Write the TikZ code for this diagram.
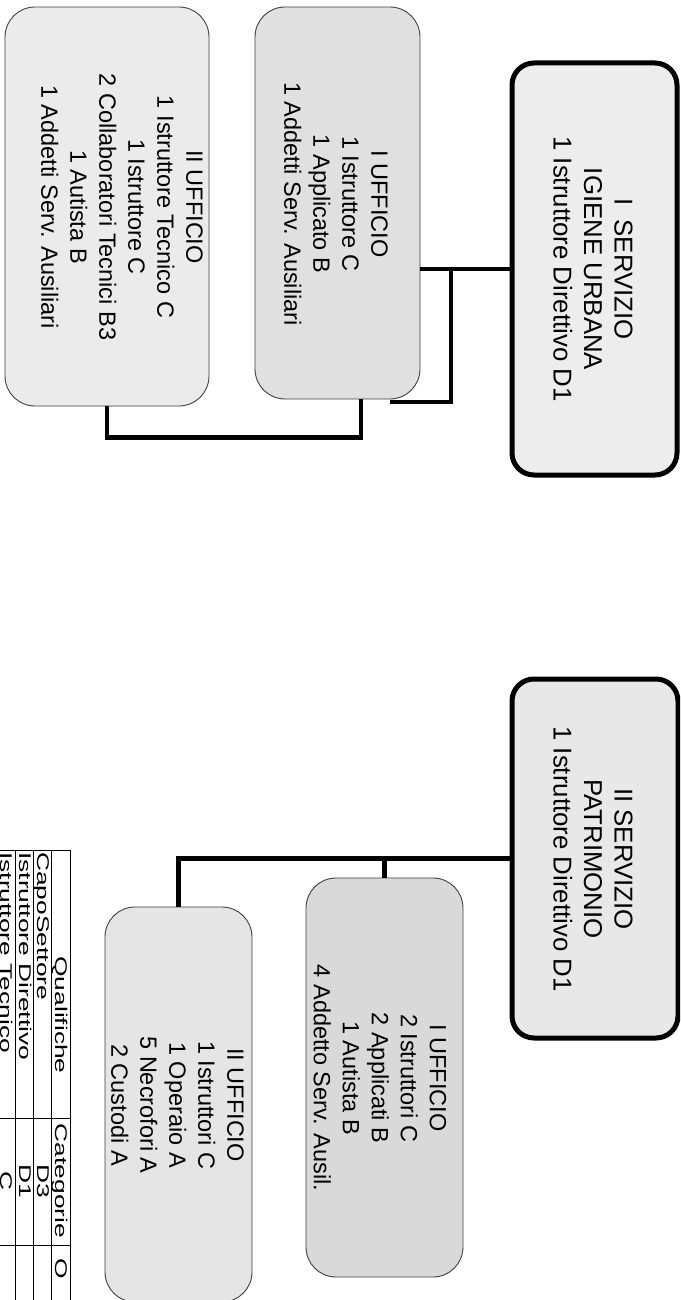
\documentclass[tikz,border=0pt]{standalone}
\usepackage{fontspec}
\setmainfont{Liberation Sans}
\usepackage{graphicx}
\begin{document}
\begin{tikzpicture}[x=1pt,y=-1pt,
  servbox/.style={draw=black, line width=5pt, rounded corners=22pt, fill=black!7, inner sep=0pt},
  ufbox/.style={draw=black!75, line width=0.9pt, rounded corners=30pt, fill=black!10, inner sep=0pt},
  servtxt/.style={rotate=-90, align=center, inner sep=0pt, font=\fontsize{25.8}{30.5}\selectfont},
  uftxt/.style={rotate=-90, align=center, inner sep=0pt, font=\fontsize{23.5}{29}\selectfont},
  conn/.style={draw=black, line width=4.5pt},
  tabline/.style={draw=black, line width=1pt},
  tabtxt/.style={rotate=-90, inner sep=0pt, font=\fontsize{17}{17}\selectfont}
]
\useasboundingbox (0,0) rectangle (680,1300);
\clip (0,0) rectangle (680,1300);
\fill[white] (0,0) rectangle (680,1300);

% ---------- upper group ----------
\node[servbox, minimum width=165pt, minimum height=412pt] (servA) at (594.5,269) {};
\node[ufbox, fill=black!12, minimum width=165pt, minimum height=392pt] (uffA1) at (337.5,203) {};
\node[ufbox, fill=black!8, minimum width=204pt, minimum height=399pt] (uffA2) at (107,206.5) {};

\node[servtxt] (servAt) at (593,269) {I\ \ SERVIZIO\\IGIENE URBANA\\1 Istruttore Direttivo D1};
\node[uftxt] (uffA1t) at (336,204) {I UFFICIO\\1 Istruttore C\\1 Applicato B\\1 Addetti Serv. Ausiliari};
\node[uftxt] (uffA2t) at (122,207) {II UFFICIO\\1 Istruttore Tecnico C\\1 Istruttore C\\2 Collaboratori Tecnici B3\\1 Autista B\\1 Addetti Serv. Ausiliari};

\coordinate (jA) at (451,269);
\coordinate (eA) at (390,402);
\coordinate (sA) at ([xshift=23.5pt]uffA1.south);
\draw[conn] (servA.west) -- (servA.west -| uffA1.east);
\draw[conn] (jA) |- (eA);
\draw[conn] (sA) -- ++(0,38) -| (uffA2.south);

% ---------- lower group ----------
\node[servbox, fill=black!9, minimum width=166pt, minimum height=359pt] (servB) at (595,858.5) {};
\node[ufbox, fill=black!15, minimum width=157pt, minimum height=399pt] (uffB1) at (384.5,1077.5) {};
\node[ufbox, fill=black!10, minimum width=147pt, minimum height=395pt] (uffB2) at (178.5,1104.5) {};

\node[servtxt] (servBt) at (593,859) {II SERVIZIO\\PATRIMONIO\\1 Istruttore Direttivo D1};
\node[uftxt] (uffB1t) at (380,1078) {I UFFICIO\\2 Istruttori C\\2 Applicati B\\1 Autista B\\4 Addetto Serv. Ausil.};
\node[uftxt] (uffB2t) at (177.5,1105) {II UFFICIO\\1 Istruttori C\\1 Operaio A\\5 Necrofori A\\2 Custodi A};

\draw[conn] (servB.west) -| (uffB2.north);
\draw[conn] (uffB1.north) -- (uffB1.north |- servB.west);

% ---------- table ----------
\draw[tabline] (0,850) -- (70,850);
\draw[tabline] (70,850) -- (70,1300);
\draw[tabline] (51,850) -- (51,1300);
\draw[tabline] (33,850) -- (33,1300);
\draw[tabline] (15,850) -- (15,1300);
\draw[tabline] (0,1118) -- (70,1118);
\draw[tabline] (0,1245) -- (70,1245);

\node[tabtxt, anchor=base] (h1) at (55,1015) {\scalebox{1.55}[1]{Qualifiche}};
\node[tabtxt, anchor=base] (h2) at (55,1181) {\scalebox{1.55}[1]{Categorie}};
\node[tabtxt, anchor=base west] (h3) at (55,1258) {\scalebox{1.55}[1]{O}};
\node[tabtxt, anchor=base west] (r1) at (37,852) {\scalebox{1.55}[1]{CapoSettore}};
\node[tabtxt, anchor=base] (r1c) at (37,1181) {\scalebox{1.55}[1]{D3}};
\node[tabtxt, anchor=base west] (r2) at (19,852) {\scalebox{1.55}[1]{Istruttore Direttivo}};
\node[tabtxt, anchor=base] (r2c) at (19,1181) {\scalebox{1.55}[1]{D1}};
\node[tabtxt, anchor=base west] (r3) at (1,852) {\scalebox{1.55}[1]{Istruttore Tecnico}};
\node[tabtxt, anchor=base] (r3c) at (1,1181) {\scalebox{1.55}[1]{C}};
\end{tikzpicture}
\end{document}
